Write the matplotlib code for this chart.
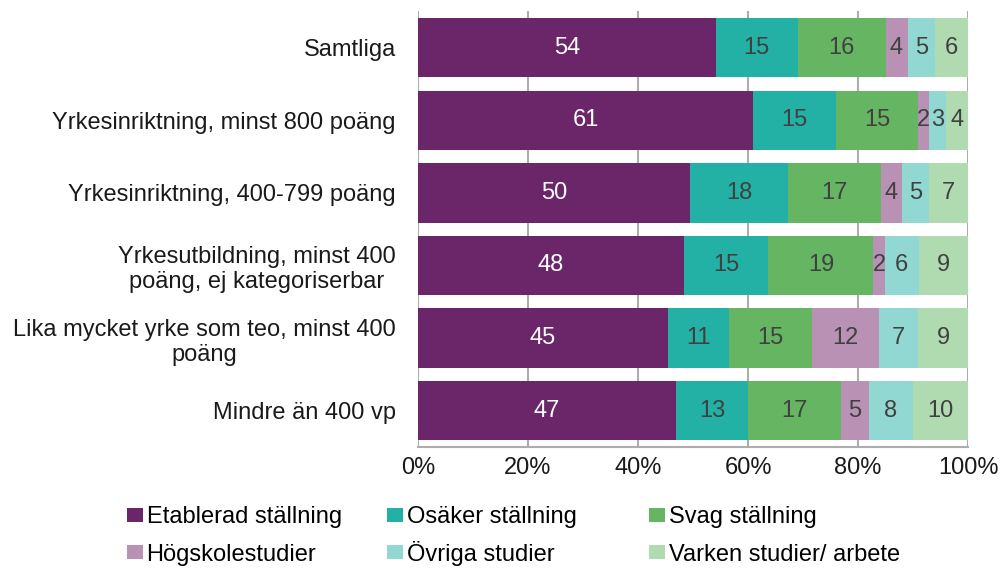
import matplotlib
matplotlib.use("Agg")
import matplotlib.pyplot as plt
from matplotlib.patches import Patch
import numpy as np

plt.rcParams['font.family'] = ['Liberation Sans', 'DejaVu Sans']

categories = [
    "Samtliga",
    "Yrkesinriktning, minst 800 poäng",
    "Yrkesinriktning, 400-799 poäng",
    "Yrkesutbildning, minst 400\npoäng, ej kategoriserbar",
    "Lika mycket yrke som teo, minst 400\npoäng",
    "Mindre än 400 vp",
]
series_names = ["Etablerad ställning", "Osäker ställning", "Svag ställning",
                "Högskolestudier", "Övriga studier", "Varken studier/ arbete"]
etablerad = [54.1, 60.9, 49.4, 48.4, 45.5, 46.9]
osaker = [14.9, 15.1, 17.9, 15.3, 11.1, 13.1]
svag = [16.0, 14.9, 16.85, 19.1, 15.1, 16.9]
hogskola = [4.0, 2.05, 3.8, 2.1, 12.1, 5.1]
ovriga = [5.0, 3.04, 5.0, 6.1, 7.1, 8.0]
varken = [6.0, 4.03, 7.0, 9.1, 9.1, 10.0]

etablerad_lbl = [54, 61, 50, 48, 45, 47]
osaker_lbl = [15, 15, 18, 15, 11, 13]
svag_lbl = [16, 15, 17, 19, 15, 17]
hogskola_lbl = [4, 2, 4, 2, 12, 5]
ovriga_lbl = [5, 3, 5, 6, 7, 8]
varken_lbl = [6, 4, 7, 9, 9, 10]

xticks = [0, 20, 40, 60, 80, 100]
xticklabels = ["0%", "20%", "40%", "60%", "80%", "100%"]

colors = ["#6B2669", "#23B1A5", "#65B562", "#B891B5", "#90D8D1", "#B0DBB0"]
text_colors = ["white", "#404040", "#404040", "#404040", "#404040", "#404040"]
FS = 17

fig = plt.figure(figsize=(10, 5.69), dpi=100)
ax = fig.add_axes([0.418, 0.2144, 0.55, 0.7656])

data = [etablerad, osaker, svag, hogskola, ovriga, varken]
labels = [etablerad_lbl, osaker_lbl, svag_lbl, hogskola_lbl, ovriga_lbl, varken_lbl]
y = np.arange(len(categories))
left = np.zeros(len(categories))
for vals, lbls, col, tc in zip(data, labels, colors, text_colors):
    vals = np.array(vals)
    ax.barh(y, vals, left=left, height=0.82, color=col, edgecolor='none', zorder=3)
    for yi, l, v, lb in zip(y, left, vals, lbls):
        ax.text(l + v / 2, yi, str(lb), ha='center', va='center',
                color=tc, fontsize=FS, zorder=4)
    left += vals

ax.set_xlim(0, 100)
ax.set_ylim(len(categories) - 0.5, -0.5)
ax.set_yticks(y)
ax.set_yticklabels(categories, fontsize=FS, color='#1a1a1a')
for lab in ax.get_yticklabels():
    lab.set_multialignment('center')
ax.set_xticks(xticks)
ax.set_xticklabels(xticklabels, fontsize=FS, color='#1a1a1a')
ax.tick_params(axis='y', length=0, pad=16)
ax.tick_params(axis='x', length=0, pad=7)
ax.grid(axis='x', color='#ADADAD', linewidth=1.5, zorder=0)
for s in ['top', 'right', 'left']:
    ax.spines[s].set_visible(False)
ax.spines['bottom'].set_color('#ADADAD')
ax.spines['bottom'].set_linewidth(1.5)

# Legend: 2 rows x 3 columns, row-major order, one entry per legend box
col_x = [0.127, 0.387, 0.649]
row_y = [0.0715, 0.006]
for i, (name, c) in enumerate(zip(series_names, colors)):
    r, k = divmod(i, 3)
    leg = fig.legend([Patch(facecolor=c, edgecolor='none')], [name],
                     loc='lower left', bbox_to_anchor=(col_x[k], row_y[r]),
                     frameon=False, fontsize=FS, handlelength=0.68, handleheight=0.55,
                     handletextpad=0.15, borderaxespad=0, borderpad=0)

fig.savefig("out.png", dpi=100)
